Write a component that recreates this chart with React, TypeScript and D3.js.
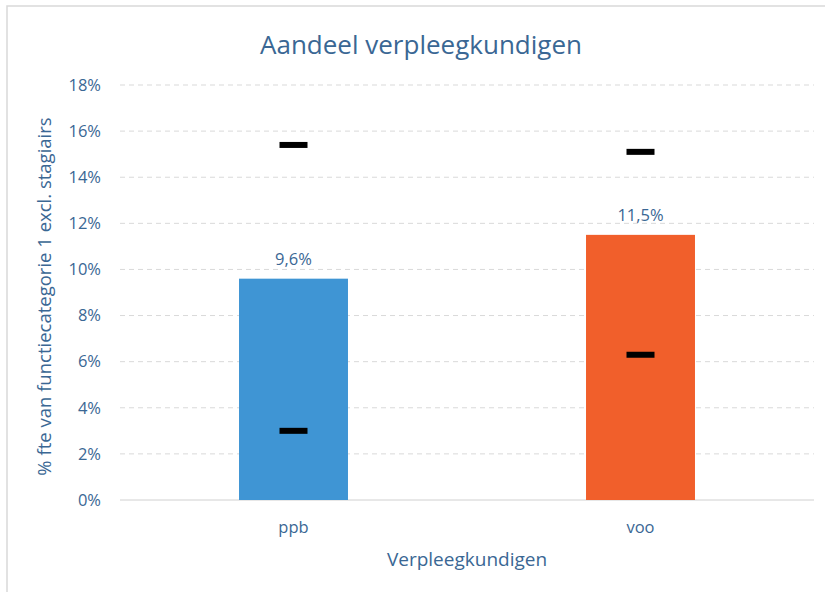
import React from 'react';
import * as d3 from 'd3';

const categories = ['ppb', 'voo'];
const values = [0.096, 0.115];
const valueLabels = ['9,6%', '11,5%'];
const upperMarks = [0.154, 0.151];
const lowerMarks = [0.03, 0.063];
const barColors = ['#3f95d4', '#f15f2b'];
const yTicks = [0, 0.02, 0.04, 0.06, 0.08, 0.1, 0.12, 0.14, 0.16, 0.18];

const W = 825;
const H = 592;
const margin = { top: 85, right: 11, bottom: 92, left: 120 };
const textColor = '#3a6794';
const font = '"Open Sans", sans-serif';

export default function App() {
  const x = d3
    .scaleBand<string>()
    .domain(categories)
    .range([margin.left, W - margin.right])
    .paddingInner(0.686)
    .paddingOuter(0.343);

  const y = d3
    .scaleLinear()
    .domain([0, 0.18])
    .range([H - margin.bottom, margin.top]);

  const pct = (d: number) => `${Math.round(d * 100)}%`;
  const markW = 28;
  const markH = 6;

  return (
    <svg
      width={W}
      height={H}
      style={{ position: 'absolute', left: 0, top: 0, background: '#fff' }}
      fontFamily={font}
    >
      <rect x={7} y={6} width={W + 10} height={H + 10} fill="#fff" stroke="#d9d9d9" strokeWidth={1.5} />

      <text x={421} y={54} textAnchor="middle" fontSize={26} fill={textColor}>
        Aandeel verpleegkundigen
      </text>

      {yTicks.map((t) => (
        <g key={t}>
          <line
            x1={margin.left}
            x2={W - margin.right}
            y1={y(t)}
            y2={y(t)}
            stroke={t === 0 ? '#d0d0d0' : '#d9d9d9'}
            strokeWidth={1}
            strokeDasharray={t === 0 ? undefined : '5,4'}
          />
          <text x={101} y={y(t)} dy="0.35em" textAnchor="end" fontSize={16.5} fill={textColor}>
            {pct(t)}
          </text>
        </g>
      ))}

      {categories.map((c, i) => {
        const bx = x(c) as number;
        const cx = bx + x.bandwidth() / 2;
        return (
          <g key={c}>
            <rect x={bx} y={y(values[i])} width={x.bandwidth()} height={y(0) - y(values[i])} fill={barColors[i]} />
            <text x={cx} y={y(values[i]) - 14} textAnchor="middle" fontSize={16.5} fill={textColor}>
              {valueLabels[i]}
            </text>
            <rect x={cx - markW / 2} y={y(upperMarks[i]) - markH / 2} width={markW} height={markH} fill="#000" />
            <rect x={cx - markW / 2} y={y(lowerMarks[i]) - markH / 2} width={markW} height={markH} fill="#000" />
            <text x={cx} y={y(0) + 33} textAnchor="middle" fontSize={16.5} fill={textColor}>
              {c}
            </text>
          </g>
        );
      })}

      <text x={467} y={566} textAnchor="middle" fontSize={19} fill={textColor}>
        Verpleegkundigen
      </text>

      <text
        transform={`translate(51, ${(y(0) + y(0.18)) / 2 + 4}) rotate(-90)`}
        textAnchor="middle"
        fontSize={18.5}
        fill={textColor}
      >
        % fte van functiecategorie 1 excl. stagiairs
      </text>
    </svg>
  );
}
